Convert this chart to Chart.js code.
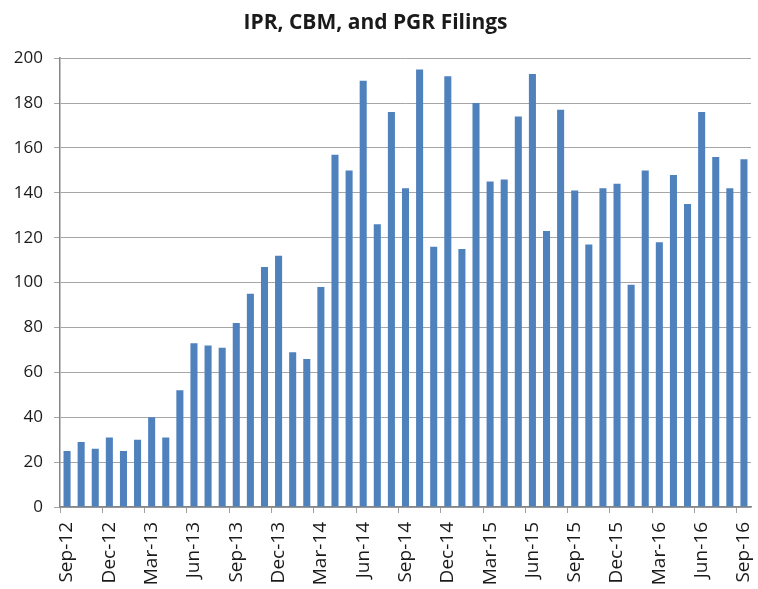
<!DOCTYPE html>
<html>
<head>
<meta charset="utf-8">
<script src="https://cdn.jsdelivr.net/npm/chart.js@4"></script>
<style>
  body { margin: 0; background: #fff; }
  #wrap { width: 758px; height: 589px; }
</style>
</head>
<body>
<div id="wrap"><canvas id="chart" width="758" height="589"></canvas></div>
<script>
// monthly filings, Sep-12 .. Sep-16
const months = [
  'Sep-12', 'Oct-12', 'Nov-12', 'Dec-12', 'Jan-13', 'Feb-13', 'Mar-13', 'Apr-13', 'May-13',
  'Jun-13', 'Jul-13', 'Aug-13', 'Sep-13', 'Oct-13', 'Nov-13', 'Dec-13', 'Jan-14', 'Feb-14',
  'Mar-14', 'Apr-14', 'May-14', 'Jun-14', 'Jul-14', 'Aug-14', 'Sep-14', 'Oct-14', 'Nov-14',
  'Dec-14', 'Jan-15', 'Feb-15', 'Mar-15', 'Apr-15', 'May-15', 'Jun-15', 'Jul-15', 'Aug-15',
  'Sep-15', 'Oct-15', 'Nov-15', 'Dec-15', 'Jan-16', 'Feb-16', 'Mar-16', 'Apr-16', 'May-16',
  'Jun-16', 'Jul-16', 'Aug-16', 'Sep-16'
];
const filings = [
  25, 29, 26, 31, 25, 30, 40, 31, 52,
  73, 72, 71, 82, 95, 107, 112, 69, 66,
  98, 157, 150, 190, 126, 176, 142, 195, 116,
  192, 115, 180, 145, 146, 174, 193, 123, 177,
  141, 117, 142, 144, 99, 150, 118, 148, 135,
  176, 156, 142, 155
];
const yTicks = [0, 20, 40, 60, 80, 100, 120, 140, 160, 180, 200];

const ctx = document.getElementById('chart').getContext('2d');

new Chart(ctx, {
  type: 'bar',
  data: {
    labels: months,
    datasets: [
      {
        label: 'Filings',
        data: filings,
        backgroundColor: '#4F81BD',
        borderWidth: 0,
        barPercentage: 0.5,
        categoryPercentage: 1.0,
      },
    ],
  },
  options: {
    responsive: false,
    animation: false,
    layout: {
      padding: { top: 0, left: 0, right: 7, bottom: 0 },
    },
    plugins: {
      legend: { display: false },
      tooltip: { enabled: false },
      title: {
        display: true,
        text: 'IPR, CBM, and PGR Filings',
        color: '#1a1a1a',
        font: { family: 'Open Sans', size: 21, weight: 'bold', lineHeight: 1.2 },
        padding: { top: 10, bottom: 23 },
      },
    },
    scales: {
      x: {
        type: 'category',
        offset: true,
        grid: {
          offset: true,
          drawOnChartArea: false,
          tickLength: 6,
          // tick marks only every 3 months
          tickColor: (c) => (c.index % 3 === 0 ? '#a0a0a0' : 'rgba(0,0,0,0)'),
        },
        border: { color: '#868686', width: 1.5 },
        ticks: {
          autoSkip: false,
          maxRotation: 90,
          minRotation: 90,
          padding: 9,
          color: '#1a1a1a',
          font: { family: 'Open Sans', size: 19 },
          callback: function (value, index) {
            return index % 3 === 0 ? months[index] : '';
          },
        },
        afterFit: (scale) => {
          scale.height = 82;
          // let the plot run to the right edge like the original
          scale.paddingLeft = 0;
          scale.paddingRight = 0;
        },
      },
      y: {
        type: 'linear',
        min: 0,
        max: 200,
        afterBuildTicks: (scale) => {
          scale.ticks = yTicks.map((v) => ({ value: v }));
        },
        grid: {
          color: '#a6a6a6',
          tickLength: 6,
        },
        border: { color: '#868686', width: 1.5 },
        ticks: {
          padding: 11,
          color: '#1a1a1a',
          font: { family: 'Open Sans', size: 17 },
        },
        afterFit: (scale) => { scale.width = 60; },
      },
    },
  },
});
</script>
</body>
</html>
